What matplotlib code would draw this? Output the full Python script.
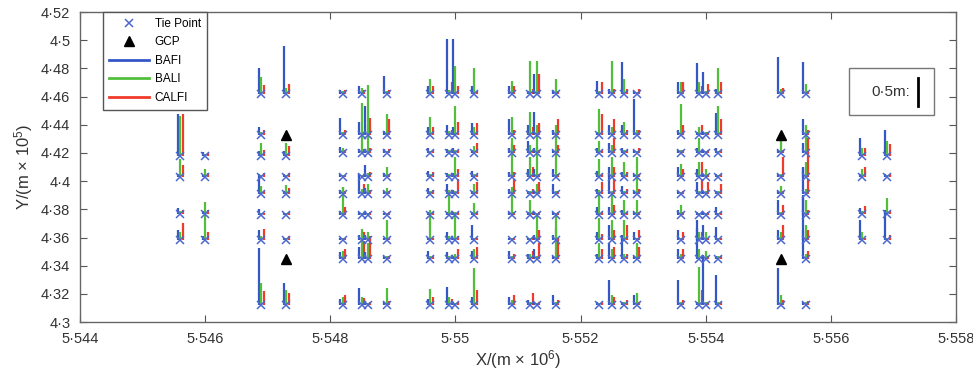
import matplotlib
matplotlib.use("Agg")
import matplotlib.pyplot as plt
from matplotlib.patches import Rectangle
from matplotlib.ticker import FuncFormatter
import matplotlib.transforms as mtransforms

plt.rcParams['font.family'] = ['Liberation Sans', 'DejaVu Sans']
plt.rcParams['mathtext.default'] = 'regular'

# tie point columns (X, 10^6 m) and rows (Y, 10^5 m)
rows_full = [4.462, 4.433, 4.420, 4.403, 4.391, 4.376, 4.358, 4.345, 4.312]
col_x = [5.5456, 5.5460, 5.5469, 5.5473, 5.5482, 5.5485, 5.5486, 5.5489,
         5.5496, 5.5499, 5.5500, 5.5503, 5.5509, 5.5512, 5.5513, 5.5516,
         5.5523, 5.5525, 5.5527, 5.5529, 5.5536, 5.5539, 5.5540, 5.5542,
         5.5552, 5.5556, 5.5565, 5.5569]
col_y = [
    [4.418, 4.403, 4.377, 4.358],
    [4.418, 4.403, 4.377, 4.358],
    [4.462, 4.433, 4.418, 4.403, 4.391, 4.376, 4.358, 4.312],
    [4.462, 4.418, 4.403, 4.391, 4.376, 4.358, 4.312],
    rows_full, rows_full,
    [4.433, 4.420, 4.403, 4.391, 4.376, 4.358, 4.345, 4.312],
    rows_full, rows_full, rows_full, rows_full, rows_full, rows_full,
    rows_full, rows_full, rows_full, rows_full, rows_full, rows_full,
    rows_full, rows_full, rows_full, rows_full, rows_full,
    [4.462, 4.420, 4.403, 4.391, 4.376, 4.358, 4.312],
    rows_full,
    [4.418, 4.403, 4.377, 4.358],
    [4.418, 4.403, 4.377, 4.358],
]

# positioning errors (m) per tie point
err_bafi = [
    [.75, .05, .09, .18],
    [.07, .04, .05, .07],
    [.46, .13, .09, .05, .30, .11, .18, 1.02],
    [.84, .09, .05, .05, .04, .04, .39],
    [.07, .30, .11, .05, .07, .07, .05, .11, .11],
    [.14, .23, .07, .05, .36, .05, .09, .21, .30],
    [.50, .07, .21, .11, .05, .09, .11, .05],
    [.32, .07, .07, .07, .05, .04, .05, .04, .05],
    [.14, .14, .09, .11, .11, .05, .05, .14, .11],
    [.98, .18, .07, .07, .18, .05, .14, .11, .32],
    [.98, .14, .09, .07, .07, .05, .05, .05, .05],
    [.14, .21, .05, .11, .05, .05, .27, .14, .14],
    [.14, .27, .09, .09, .09, .05, .05, .14, .14],
    [.05, .18, .21, .14, .05, .05, .05, .09, .09],
    [.36, .41, .09, .14, .05, .05, .09, .18, .05],
    [.07, .09, .05, .14, .18, .05, .09, .05, .18],
    [.23, .05, .09, .11, .09, .14, .14, .09, .05],
    [.09, .18, .18, .18, .36, .14, .27, .27, .45],
    [.57, .18, .09, .09, .14, .09, .09, .36, .05],
    [.05, .63, .05, .05, .05, .05, .14, .05, .18],
    [.21, .09, .05, .18, .05, .09, .18, .18, .45],
    [.54, .05, .09, .14, .21, .05, .36, .54, .05],
    [.39, .05, .05, .05, .05, .05, .27, .05, .89],
    [.09, .39, .09, .05, .05, .14, .23, .05, .54],
    [.66, .05, .05, .05, .27, .18, .66],
    [.57, .27, .18, .18, .45, .36, .18, 1.07, .05],
    [.32, .05, .09, .36],
    [.45, .05, .05, .54],
]
err_bali = [
    [.71, .32, .05, .14],
    [.04, .14, .21, .48],
    [.29, .05, .23, .04, .14, .04, .07, .39],
    [.11, .23, .04, .16, .04, .05, .27],
    [.05, .05, .09, .04, .13, .50, .04, .14, .14],
    [.11, .05, .89, .04, .09, .04, .21, .45, .14],
    [.18, 1.21, .07, .18, .04, .14, .27, .04],
    [.05, .36, .04, .18, .11, .04, .36, .04, .30],
    [.27, .32, .04, .05, .05, .04, .54, .04, .29],
    [.07, .07, .05, .05, .07, .36, .07, .05, .14],
    [.50, .50, .05, .36, .05, .04, .50, .09, .04],
    [.45, .14, .13, .05, .18, .21, .05, .18, .66],
    [.23, .32, .27, .59, .07, .50, .04, .05, .09],
    [.59, .41, .14, .36, .05, .27, .04, .09, .05],
    [.59, .18, .32, .54, .18, .04, .45, .05, .04],
    [.27, .18, .36, .45, .05, .04, .45, .54, .05],
    [.05, .45, .21, .32, .05, .45, .39, .27, .04],
    [.59, .14, .14, .36, .05, .36, .36, .18, .18],
    [.27, .23, .05, .27, .05, .27, .36, .09, .05],
    [.04, .09, .04, .36, .36, .27, .05, .27, .21],
    [.21, .54, .05, .23, .04, .18, .05, .09, .05],
    [.21, .14, .27, .27, .05, .04, .14, .18, .68],
    [.05, .04, .04, .14, .05, .04, .14, .14, .05],
    [.45, .50, .04, .04, .05, .04, .05, .04, .05],
    [.09, .36, .05, .14, .05, .14, .18],
    [.18, .18, .36, .27, .09, .27, .27, .09, .05],
    [.14, .14, .05, .14],
    [.27, .04, .27, .05],
]
err_calfi = [
    [.75, .21, .07, .30],
    [.05, .07, .07, .14],
    [.16, .09, .11, .07, .05, .04, .21, .25],
    [.18, .18, .07, .11, .05, .07, .21],
    [.07, .09, .05, .04, .05, .14, .05, .18, .18],
    [.07, .05, .07, .05, .18, .05, .14, .32, .13],
    [.30, .09, .09, .07, .05, .07, .36, .05],
    [.07, .27, .07, .05, .05, .05, .05, .05, .07],
    [.13, .14, .05, .09, .07, .05, .05, .05, .14],
    [.21, .09, .05, .05, .07, .05, .05, .05, .11],
    [.13, .23, .05, .14, .27, .05, .07, .18, .05],
    [.05, .21, .18, .05, .21, .05, .05, .21, .27],
    [.14, .09, .14, .09, .27, .05, .05, .09, .18],
    [.09, .14, .05, .18, .09, .05, .05, .14, .21],
    [.36, .21, .05, .05, .21, .05, .18, .27, .05],
    [.05, .27, .14, .05, .05, .05, .05, .36, .09],
    [.21, .36, .05, .05, .21, .05, .11, .18, .05],
    [.09, .27, .27, .18, .27, .18, .18, .21, .14],
    [.09, .09, .05, .09, .09, .05, .27, .09, .09],
    [.09, .09, .09, .05, .09, .05, .18, .21, .05],
    [.21, .18, .05, .14, .05, .05, .14, .18, .09],
    [.14, .18, .05, .27, .27, .05, .14, .05, .27],
    [.18, .05, .05, .05, .21, .05, .05, .05, .05],
    [.21, .27, .05, .05, .18, .05, .05, .05, .05],
    [.11, .05, .36, .05, .18, .27, .09],
    [.05, .09, .27, .45, .27, .09, .18, .14, .07],
    [.14, .18, .14, .05],
    [.21, .05, .05, .09],
]

gcp_x = [5.5473, 5.5473, 5.5552, 5.5552]
gcp_y = [4.433, 4.345, 4.433, 4.345]

scale_len = 0.5          # m, length of the scale bar
m_to_axis = 0.02 / 0.5   # 0.5 m of error drawn as 0.02 (x10^5 m)
dx = 4e-5                # side offset between the three bars

c_blue = '#3557c6'
c_green = '#52bf3c'
c_red = '#ef3a2c'

fig = plt.figure(figsize=(9.73, 3.78), dpi=100)
ax = fig.add_axes([0.0822, 0.148, 0.9003, 0.820])

tx, ty = [], []
for i, x in enumerate(col_x):
    for j, y in enumerate(col_y[i]):
        tx.append(x)
        ty.append(y)
        ax.vlines(x - dx, y, y + err_bafi[i][j] * m_to_axis, color=c_blue, lw=1.6, zorder=2)
        ax.vlines(x, y, y + err_bali[i][j] * m_to_axis, color=c_green, lw=1.6, zorder=2)
        ax.vlines(x + dx, y, y + err_calfi[i][j] * m_to_axis, color=c_red, lw=1.6, zorder=2)

ax.plot(tx, ty, 'x', color='#4a68d0', ms=5.5, mew=1.1, zorder=3, label='Tie Point')
ax.plot(gcp_x, gcp_y, '^', color='black', ms=7, zorder=4, label='GCP')
ax.plot([], [], color=c_blue, lw=2, label='BAFI')
ax.plot([], [], color=c_green, lw=2, label='BALI')
ax.plot([], [], color=c_red, lw=2, label='CALFI')

leg = ax.legend(loc='upper left', bbox_to_anchor=(0.026, 1.0), fontsize=8.5,
                fancybox=False, edgecolor='#555555', framealpha=1,
                handlelength=3.4, borderpad=0.5, labelspacing=0.55,
                handletextpad=0.5, borderaxespad=0)
leg.get_frame().set_linewidth(1.0)

# scale bar box
ax.add_patch(Rectangle((0.878, 0.668), 0.097, 0.151, transform=ax.transAxes,
                       fill=False, edgecolor='#777777', lw=1.0, zorder=5))
ax.text(0.948, 0.742, '0·5m:', transform=ax.transAxes, ha='right', va='center',
        fontsize=11, color='#333333', zorder=6)
trans = mtransforms.blended_transform_factory(ax.transAxes, ax.transData)
ax.plot([0.957, 0.957], [4.4532, 4.4532 + scale_len * m_to_axis], transform=trans,
        color='black', lw=2, zorder=6)

ax.set_xlim(5.544, 5.558)
ax.set_ylim(4.3, 4.52)
ax.set_xticks([5.544, 5.546, 5.548, 5.550, 5.552, 5.554, 5.556, 5.558])
ax.set_yticks([4.30, 4.32, 4.34, 4.36, 4.38, 4.40, 4.42, 4.44, 4.46, 4.48, 4.50, 4.52])
fmt = FuncFormatter(lambda v, p: ('%g' % round(v, 4)).replace('.', '·'))
ax.xaxis.set_major_formatter(fmt)
ax.yaxis.set_major_formatter(fmt)
ax.tick_params(direction='in', top=True, right=True, length=5, width=0.8,
               colors='#555555', labelcolor='#333333', labelsize=10.5, pad=7)
for s in ax.spines.values():
    s.set_color('#666666')
    s.set_linewidth(1.0)

ax.set_xlabel('X/(m × 10$^6$)', fontsize=12, color='#333333', labelpad=2)
ax.set_ylabel('Y/(m × 10$^5$)', fontsize=12, color='#333333', labelpad=4)

fig.savefig('out.png', dpi=100)
